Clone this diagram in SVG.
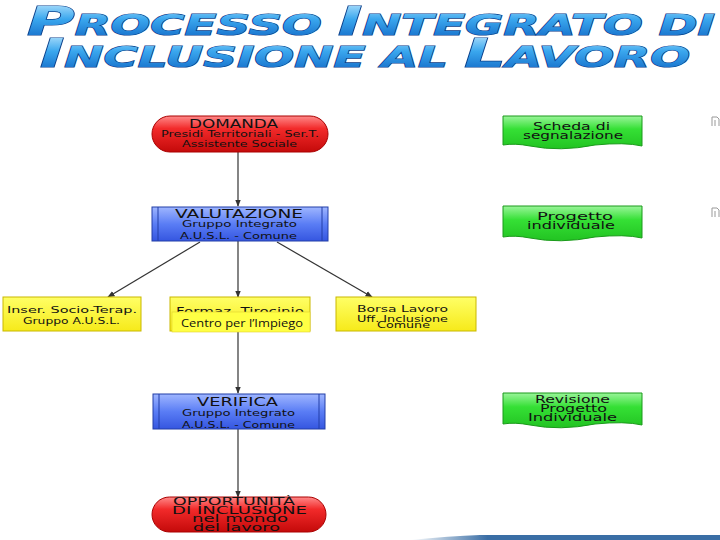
<svg xmlns="http://www.w3.org/2000/svg" width="720" height="540" viewBox="0 0 720 540">
<defs>
  <linearGradient id="gTitle" x1="0" y1="0" x2="0" y2="1">
    <stop offset="0" stop-color="#c8ecff"/>
    <stop offset="0.45" stop-color="#3aa7ee"/>
    <stop offset="1" stop-color="#0b5fc0"/>
  </linearGradient>
  <linearGradient id="gRed" x1="0" y1="0" x2="0" y2="1">
    <stop offset="0" stop-color="#ff8a8a"/>
    <stop offset="0.35" stop-color="#f22a2a"/>
    <stop offset="1" stop-color="#c40a0a"/>
  </linearGradient>
  <linearGradient id="gBlue" x1="0" y1="0" x2="0" y2="1">
    <stop offset="0" stop-color="#9fb6ff"/>
    <stop offset="0.5" stop-color="#5a7df5"/>
    <stop offset="1" stop-color="#3556e0"/>
  </linearGradient>
  <linearGradient id="gYellow" x1="0" y1="0" x2="0" y2="1">
    <stop offset="0" stop-color="#ffff66"/>
    <stop offset="1" stop-color="#f6ea1a"/>
  </linearGradient>
  <linearGradient id="gGreen" x1="0" y1="0" x2="0" y2="1">
    <stop offset="0" stop-color="#9af59a"/>
    <stop offset="0.4" stop-color="#35e035"/>
    <stop offset="1" stop-color="#22c322"/>
  </linearGradient>
  <linearGradient id="gBar" x1="0" y1="0" x2="1" y2="0">
    <stop offset="0" stop-color="#3a6ea5" stop-opacity="0"/>
    <stop offset="0.25" stop-color="#3a6ea5" stop-opacity="1"/>
    <stop offset="1" stop-color="#3a6ea5"/>
  </linearGradient>
  <marker id="arr" viewBox="0 0 10 10" refX="9" refY="5" markerWidth="6" markerHeight="6" orient="auto">
    <path d="M0,1 L10,5 L0,9 Z" fill="#333"/>
  </marker>
  <style>
    .title{font-family:"DejaVu Sans",Verdana,sans-serif;font-weight:bold;font-style:italic;fill:url(#gTitle);stroke:#0a3f8a;stroke-width:1.2;paint-order:stroke}
    .t{font-family:"DejaVu Sans",Verdana,sans-serif;fill:#111}
    .red{fill:url(#gRed);stroke:#a00;stroke-width:1}
    .blue{fill:url(#gBlue);stroke:#223fa8;stroke-width:1}
    .yel{fill:url(#gYellow);stroke:#c9b800;stroke-width:1}
    .grn{fill:url(#gGreen);stroke:#1a9a1a;stroke-width:1}
    .bar{stroke:#223fa8;stroke-width:1}
    .conn{stroke:#333;stroke-width:1.2;fill:none;marker-end:url(#arr)}
  </style>
</defs>
<rect width="720" height="540" fill="#fff"/>

<g id="title">
  <text class="title" x="27" y="35" textLength="688" lengthAdjust="spacingAndGlyphs"><tspan font-size="39">P</tspan><tspan font-size="28">ROCESSO </tspan><tspan font-size="39">I</tspan><tspan font-size="28">NTEGRATO DI</tspan></text>
  <text class="title" x="40" y="67" textLength="650" lengthAdjust="spacingAndGlyphs"><tspan font-size="39">I</tspan><tspan font-size="28">NCLUSIONE AL </tspan><tspan font-size="39">L</tspan><tspan font-size="28">AVORO</tspan></text>
</g>

<g id="connectors">
  <line class="conn" x1="238" y1="151" x2="238" y2="206"/>
  <line class="conn" x1="238" y1="241" x2="238" y2="297"/>
  <line class="conn" x1="200" y1="242" x2="108" y2="297"/>
  <line class="conn" x1="277" y1="242" x2="372" y2="297"/>
  <line class="conn" x1="238" y1="331" x2="238" y2="393"/>
  <line class="conn" x1="238" y1="429" x2="238" y2="497"/>
</g>

<g id="domanda">
  <rect class="red" x="152" y="116" width="176" height="36" rx="18"/>
  <text class="t" x="189" y="128" font-size="11.5" textLength="89" lengthAdjust="spacingAndGlyphs">DOMANDA</text>
  <text class="t" x="161" y="137" font-size="9.5" textLength="158" lengthAdjust="spacingAndGlyphs">Presidi Territoriali - Ser.T.</text>
  <text class="t" x="182" y="147" font-size="8.5" textLength="115" lengthAdjust="spacingAndGlyphs">Assistente Sociale</text>
</g>

<g id="valutazione">
  <rect class="blue" x="152" y="207" width="176" height="34"/>
  <line class="bar" x1="158" y1="207" x2="158" y2="241"/>
  <line class="bar" x1="322" y1="207" x2="322" y2="241"/>
  <text class="t" x="175" y="218" font-size="11.5" textLength="128" lengthAdjust="spacingAndGlyphs">VALUTAZIONE</text>
  <text class="t" x="182" y="227" font-size="9" textLength="115" lengthAdjust="spacingAndGlyphs">Gruppo Integrato</text>
  <text class="t" x="180" y="239" font-size="9" textLength="117" lengthAdjust="spacingAndGlyphs">A.U.S.L. - Comune</text>
</g>

<g id="inser">
  <rect class="yel" x="3" y="297" width="138" height="34"/>
  <text class="t" x="7" y="313" font-size="9" textLength="130" lengthAdjust="spacingAndGlyphs">Inser. Socio-Terap.</text>
  <text class="t" x="23" y="324" font-size="8.5" textLength="97" lengthAdjust="spacingAndGlyphs">Gruppo A.U.S.L.</text>
</g>

<g id="formaz">
  <rect class="yel" x="170" y="297" width="140" height="34"/>
  <text class="t" x="176" y="315" font-size="10.5" textLength="128" lengthAdjust="spacingAndGlyphs">Formaz. Tirocinio</text>
  <rect x="172" y="312" width="138" height="20" fill="#ffff44" stroke="#e0d030" stroke-width="0.6"/>
  <text x="181" y="327" font-family="'Open Sans','DejaVu Sans',sans-serif" font-size="11.5" fill="#111" textLength="122" lengthAdjust="spacingAndGlyphs">Centro per l’Impiego</text>
</g>

<g id="borsa">
  <rect class="yel" x="336" y="297" width="140" height="34"/>
  <text class="t" x="357" y="312" font-size="9" textLength="91" lengthAdjust="spacingAndGlyphs">Borsa Lavoro</text>
  <text class="t" x="357" y="322" font-size="8.5" textLength="91" lengthAdjust="spacingAndGlyphs">Uff. Inclusione</text>
  <text class="t" x="377" y="328" font-size="8" textLength="53" lengthAdjust="spacingAndGlyphs">Comune</text>
</g>

<g id="verifica">
  <rect class="blue" x="153" y="394" width="172" height="35"/>
  <line class="bar" x1="159" y1="394" x2="159" y2="429"/>
  <line class="bar" x1="319" y1="394" x2="319" y2="429"/>
  <text class="t" x="197" y="406" font-size="12" textLength="81" lengthAdjust="spacingAndGlyphs">VERIFICA</text>
  <text class="t" x="182" y="416" font-size="9" textLength="113" lengthAdjust="spacingAndGlyphs">Gruppo Integrato</text>
  <text class="t" x="182" y="428" font-size="9" textLength="113" lengthAdjust="spacingAndGlyphs">A.U.S.L. - Comune</text>
</g>

<g id="opportunita">
  <rect class="red" x="152" y="497" width="174" height="35" rx="17.5"/>
  <text class="t" x="173" y="505" font-size="10" textLength="122" lengthAdjust="spacingAndGlyphs">OPPORTUNITÀ</text>
  <text class="t" x="172" y="514" font-size="10" textLength="135" lengthAdjust="spacingAndGlyphs">DI INCLUSIONE</text>
  <text class="t" x="192" y="522" font-size="10" textLength="96" lengthAdjust="spacingAndGlyphs">nel mondo</text>
  <text class="t" x="193" y="531" font-size="10" textLength="87" lengthAdjust="spacingAndGlyphs">del lavoro</text>
</g>

<g id="scheda">
  <path class="grn" d="M503,116 H642 V146 Q625,142 595,145 Q560,152 530,146 Q515,143 503,145 Z"/>
  <text class="t" x="533" y="130" font-size="10" textLength="77" lengthAdjust="spacingAndGlyphs">Scheda di</text>
  <text class="t" x="523" y="139" font-size="10" textLength="100" lengthAdjust="spacingAndGlyphs">segnalazione</text>
</g>

<g id="progetto">
  <path class="grn" d="M503,206 H642 V238 Q625,234 595,237 Q560,244 530,238 Q515,235 503,237 Z"/>
  <text class="t" x="537" y="220" font-size="10" textLength="76" lengthAdjust="spacingAndGlyphs">Progetto</text>
  <text class="t" x="527" y="229" font-size="10" textLength="88" lengthAdjust="spacingAndGlyphs">individuale</text>
</g>

<g id="revisione">
  <path class="grn" d="M503,393 H642 V425 Q625,421 595,424 Q560,431 530,425 Q515,422 503,424 Z"/>
  <text class="t" x="535" y="403" font-size="10" textLength="75" lengthAdjust="spacingAndGlyphs">Revisione</text>
  <text class="t" x="540" y="412" font-size="10" textLength="67" lengthAdjust="spacingAndGlyphs">Progetto</text>
  <text class="t" x="528" y="421" font-size="10" textLength="89" lengthAdjust="spacingAndGlyphs">Individuale</text>
</g>

<g id="icons">
  <path d="M712,117 v9 M712,117 h5 l2,2 v7 M715,120 v6" stroke="#999" stroke-width="1" fill="none"/>
  <path d="M712,208 v9 M712,208 h5 l2,2 v7 M715,211 v6" stroke="#999" stroke-width="1" fill="none"/>
</g>

<g id="footer">
  <path d="M410,540 Q450,536 480,535 H720 V540 Z" fill="url(#gBar)"/>
</g>
</svg>
